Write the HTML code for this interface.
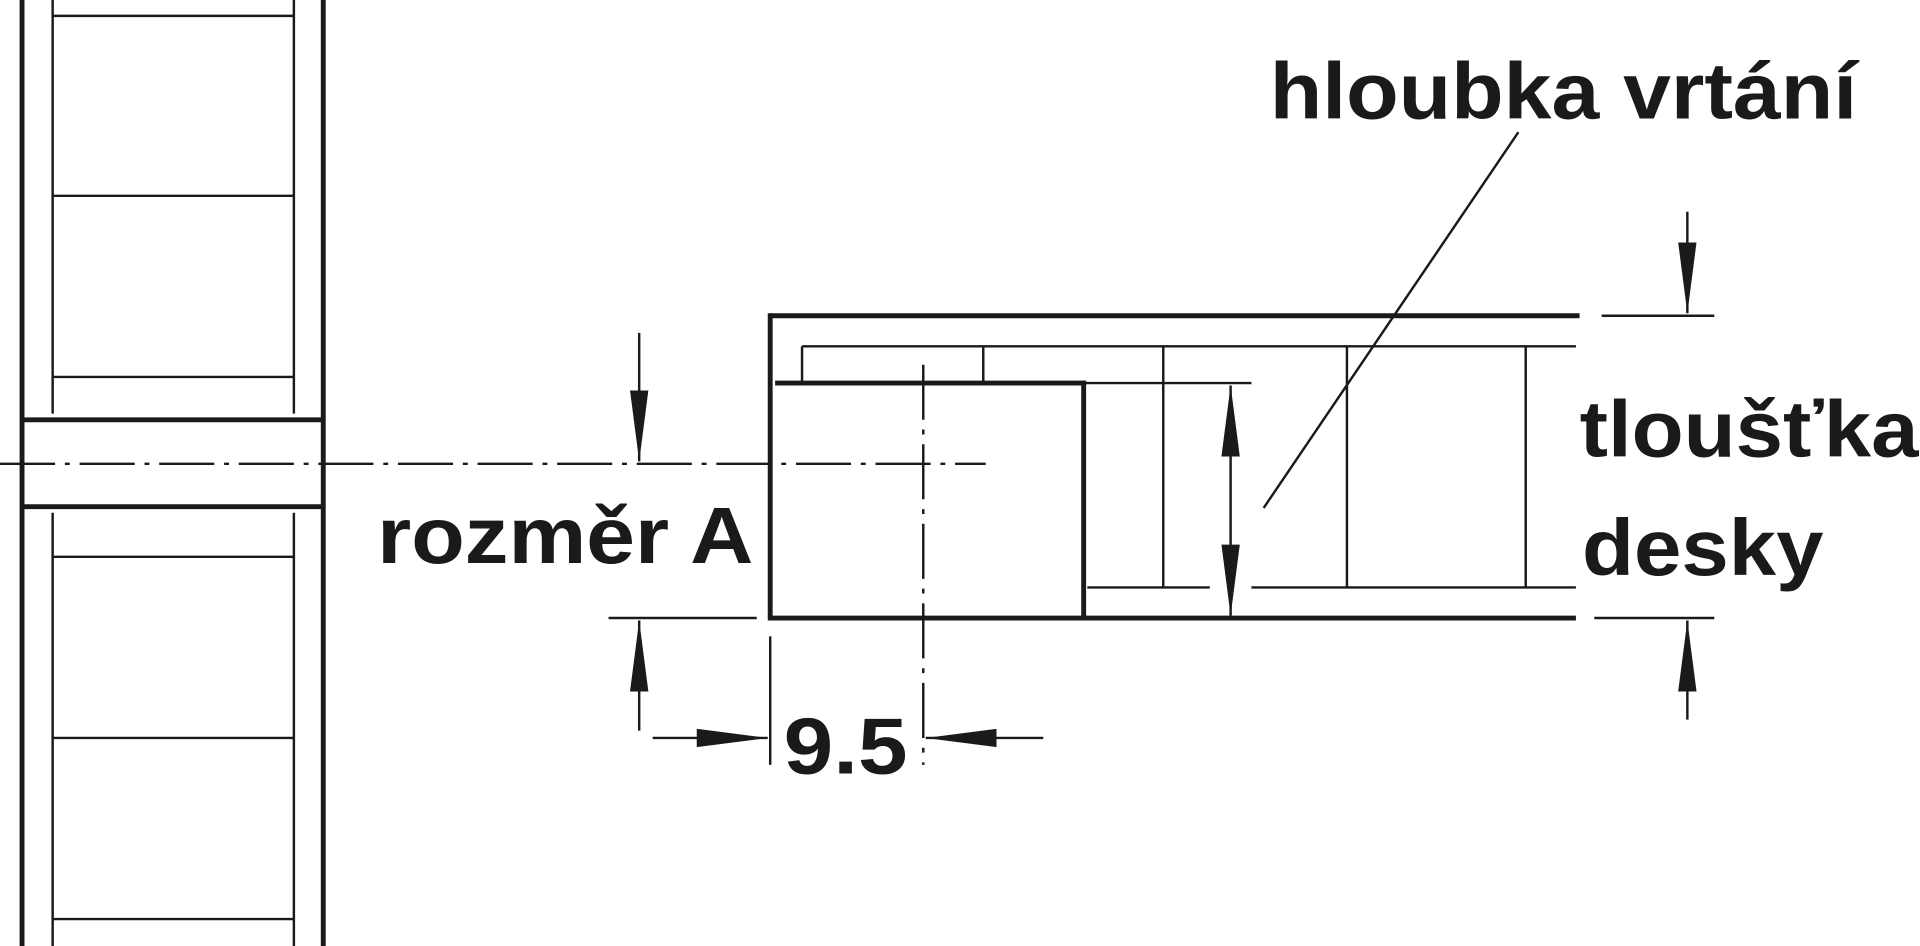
<!DOCTYPE html>
<html><head><meta charset="utf-8"><style>html,body{margin:0;padding:0;background:#fff;}svg{display:block}</style></head>
<body>
<svg width="1920" height="946" viewBox="0 0 1568 773" preserveAspectRatio="none" xmlns="http://www.w3.org/2000/svg">
<defs>
<marker id="arL" viewBox="0 0 10 10" refX="10" refY="5" markerWidth="58" markerHeight="15" markerUnits="userSpaceOnUse" orient="auto-start-reverse" preserveAspectRatio="none">
<path d="M0,0 L10,5 L0,10 z" fill="#1a1a1a"/></marker>
</defs>
<g stroke="#1a1a1a" fill="none">
<g stroke-width="4">
<line x1="18" y1="0" x2="18" y2="773"/><line x1="264" y1="0" x2="264" y2="773"/>
<line x1="18" y1="343" x2="264" y2="343"/><line x1="18" y1="414" x2="264" y2="414"/>
</g>
<g stroke-width="2">
<line x1="43" y1="0" x2="43" y2="338"/><line x1="240" y1="0" x2="240" y2="338"/>
<line x1="43" y1="419" x2="43" y2="773"/><line x1="240" y1="419" x2="240" y2="773"/>
<line x1="43" y1="13" x2="240" y2="13"/><line x1="43" y1="160" x2="240" y2="160"/>
<line x1="43" y1="308" x2="240" y2="308"/><line x1="43" y1="455" x2="240" y2="455"/>
<line x1="43" y1="603" x2="240" y2="603"/><line x1="43" y1="751" x2="240" y2="751"/>
<line x1="0" y1="379" x2="805" y2="379" stroke-dasharray="45,8,4,8"/>
<line x1="754" y1="298" x2="754" y2="625" stroke-dasharray="45,8,4,8"/>
</g>
<g stroke-width="4">
<line x1="629" y1="258" x2="1290" y2="258"/><line x1="629" y1="256" x2="629" y2="507"/>
<line x1="629" y1="505" x2="1287" y2="505"/>
<line x1="633" y1="313" x2="887" y2="313"/><line x1="885" y1="311" x2="885" y2="505"/>
</g>
<g stroke-width="2">
<line x1="655" y1="283" x2="1287" y2="283"/><line x1="655" y1="283" x2="655" y2="313"/>
<line x1="803" y1="283" x2="803" y2="313"/>
<line x1="950" y1="283" x2="950" y2="480"/><line x1="1100" y1="283" x2="1100" y2="480"/>
<line x1="1246" y1="283" x2="1246" y2="480"/>
<line x1="885" y1="313" x2="1022" y2="313"/>
<line x1="888" y1="480" x2="988" y2="480"/><line x1="1022" y1="480" x2="1287" y2="480"/>
<line x1="1005" y1="315" x2="1005" y2="503" marker-start="url(#arL)" marker-end="url(#arL)"/>
<line x1="1240" y1="108" x2="1032" y2="415"/>
<line x1="1308" y1="258" x2="1400" y2="258"/><line x1="1302" y1="505" x2="1400" y2="505"/>
<line x1="1378" y1="173" x2="1378" y2="256" marker-end="url(#arL)"/>
<line x1="1378" y1="588" x2="1378" y2="507" marker-end="url(#arL)"/>
<line x1="522" y1="272" x2="522" y2="377" marker-end="url(#arL)"/>
<line x1="497" y1="505" x2="618" y2="505"/>
<line x1="522" y1="597" x2="522" y2="507" marker-end="url(#arL)"/>
<line x1="629" y1="520" x2="629" y2="625"/>
<line x1="533" y1="603" x2="627" y2="603" marker-end="url(#arL)"/>
<line x1="852" y1="603" x2="756" y2="603" marker-end="url(#arL)"/>
</g>
</g>
<g font-family="Liberation Sans, Arial, sans-serif" font-weight="bold" font-size="65" fill="#1a1a1a">
<text transform="translate(1037,97) scale(1.08,1)">hloubka vrtání</text>
<text transform="translate(1290,373) scale(1.07,1)">tloušťka</text>
<text transform="translate(1292,470) scale(1.07,1)">desky</text>
<text transform="translate(308,460) scale(1.1,1)">rozměr A</text>
<text transform="translate(640,632) scale(1.12,1)">9.5</text>
</g>
</svg>
</body></html>
